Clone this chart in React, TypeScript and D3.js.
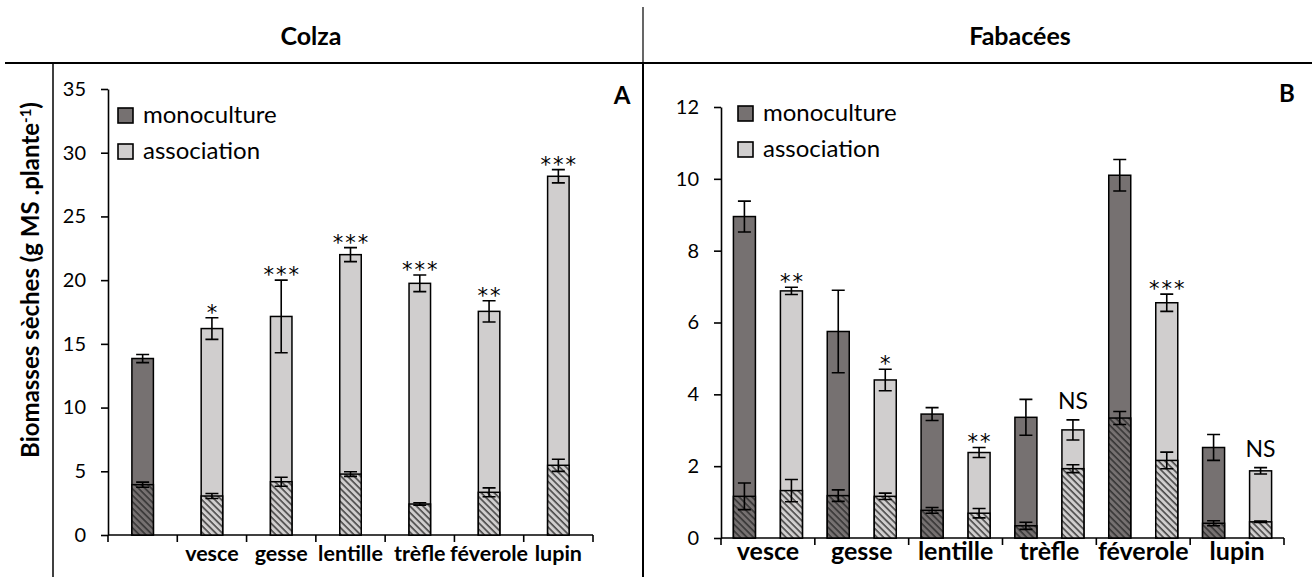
import { useEffect, useRef } from 'react';
import * as d3 from 'd3';

// Colza (A)
const colzaCats = ['', 'vesce', 'gesse', 'lentille', 'trèfle', 'féverole', 'lupin'];
const colzaKind = ['mono', 'asso', 'asso', 'asso', 'asso', 'asso', 'asso'];
const colzaTotal = [13.85, 16.2, 17.15, 22.0, 19.75, 17.55, 28.15];
const colzaTotalErr = [0.32, 0.85, 2.85, 0.55, 0.65, 0.83, 0.52];
const colzaHatch = [3.95, 3.06, 4.18, 4.78, 2.43, 3.35, 5.47];
const colzaHatchErr = [0.2, 0.2, 0.35, 0.18, 0.1, 0.35, 0.48];
const colzaSig = ['', '*', '***', '***', '***', '**', '***'];
const colzaTicks = [0, 5, 10, 15, 20, 25, 30, 35];

// Fabacées (B)
const fabCats = ['vesce', 'gesse', 'lentille', 'trèfle', 'féverole', 'lupin'];
const fabMono = [8.95, 5.75, 3.45, 3.36, 10.1, 2.52];
const fabMonoErr = [0.43, 1.15, 0.18, 0.5, 0.44, 0.36];
const fabMonoHatch = [1.16, 1.18, 0.77, 0.34, 3.34, 0.41];
const fabMonoHatchErr = [0.37, 0.16, 0.08, 0.1, 0.18, 0.07];
const fabAsso = [6.88, 4.4, 2.38, 3.01, 6.55, 1.87];
const fabAssoErr = [0.1, 0.3, 0.14, 0.28, 0.24, 0.09];
const fabAssoHatch = [1.32, 1.16, 0.69, 1.93, 2.16, 0.45];
const fabAssoHatchErr = [0.31, 0.09, 0.13, 0.11, 0.23, 0.02];
const fabSig = ['**', '*', '**', 'NS', '***', 'NS'];
const fabTicks = [0, 2, 4, 6, 8, 10, 12];

const legendLabels = ['monoculture', 'association'];

const FONT = 'Lato, "Open Sans", sans-serif';
const STAR_FONT = '"DejaVu Sans", sans-serif';
const COLORS: Record<string, string> = { mono: '#767171', asso: '#d0cece' };

export default function App() {
  const svgRef = useRef<SVGSVGElement>(null);

  useEffect(() => {
    if (!svgRef.current) return;
    const svg = d3.select(svgRef.current);
    svg.selectAll('*').remove();

    // hatch patterns for the lower part of each bar
    const defs = svg.append('defs');
    ['mono', 'asso'].forEach(k => {
      const p = defs.append('pattern')
        .attr('id', `hatch-${k}`)
        .attr('patternUnits', 'userSpaceOnUse')
        .attr('width', 4.6)
        .attr('height', 4.6)
        .attr('patternTransform', 'rotate(-45)');
      p.append('rect').attr('width', 4.6).attr('height', 4.6).attr('fill', COLORS[k]);
      p.append('line')
        .attr('x1', 1).attr('y1', 0).attr('x2', 1).attr('y2', 4.6)
        .attr('stroke', '#262626').attr('stroke-width', 1.3);
    });

    // frame lines
    svg.append('line').attr('x1', 5).attr('x2', 1312).attr('y1', 63).attr('y2', 63)
      .attr('stroke', '#000').attr('stroke-width', 2);
    svg.append('line').attr('x1', 643).attr('x2', 643).attr('y1', 7).attr('y2', 63)
      .attr('stroke', '#000').attr('stroke-width', 1.2);
    svg.append('line').attr('x1', 643).attr('x2', 643).attr('y1', 63).attr('y2', 577)
      .attr('stroke', '#000').attr('stroke-width', 2);
    svg.append('line').attr('x1', 53).attr('x2', 53).attr('y1', 63).attr('y2', 577)
      .attr('stroke', '#000').attr('stroke-width', 1.5);

    // titles
    svg.append('text').attr('x', 311).attr('y', 45).attr('text-anchor', 'middle')
      .style('font-family', FONT).style('font-weight', '700').style('font-size', '25px')
      .text('Colza');
    svg.append('text').attr('x', 1020).attr('y', 45).attr('text-anchor', 'middle')
      .style('font-family', FONT).style('font-weight', '700').style('font-size', '25px')
      .text('Fabacées');

    // y label
    const yl = svg.append('text')
      .attr('transform', 'translate(39, 280) rotate(-90)')
      .attr('text-anchor', 'middle')
      .style('font-family', FONT).style('font-weight', '700').style('font-size', '24px');
    yl.append('tspan').text('Biomasses sèches (g MS .plante');
    yl.append('tspan').attr('dy', -8).style('font-size', '15px').text('-1');
    yl.append('tspan').attr('dy', 8).text(')');

    const drawBar = (
      g: d3.Selection<SVGGElement, unknown, null, undefined>,
      y: d3.ScaleLinear<number, number>,
      cx: number, w: number, kind: string,
      total: number, totErr: number, hatch: number, hatchErr: number, sig: string
    ) => {
      const x0 = cx - w / 2;
      g.append('rect').attr('x', x0).attr('y', y(total)).attr('width', w)
        .attr('height', y(0) - y(total)).attr('fill', COLORS[kind])
        .attr('stroke', '#000').attr('stroke-width', 1.5);
      g.append('rect').attr('x', x0).attr('y', y(hatch)).attr('width', w)
        .attr('height', y(0) - y(hatch)).attr('fill', `url(#hatch-${kind})`)
        .attr('stroke', '#000').attr('stroke-width', 1.5);
      const err = (v: number, e: number) => {
        const cap = 6.5;
        g.append('path')
          .attr('d', `M${cx},${y(v + e)}V${y(v - e)}M${cx - cap},${y(v + e)}H${cx + cap}M${cx - cap},${y(v - e)}H${cx + cap}`)
          .attr('stroke', '#000').attr('stroke-width', 1.6).attr('fill', 'none');
      };
      err(total, totErr);
      err(hatch, hatchErr);
      if (sig) {
        const top = y(total + totErr);
        const isNS = sig === 'NS';
        g.append('text').attr('x', cx + (isNS ? 0 : 1)).attr('y', isNS ? top - 11 : top + 2)
          .attr('text-anchor', 'middle')
          .style('font-family', isNS ? FONT : STAR_FONT)
          .style('font-size', isNS ? '23px' : '21px')
          .style('letter-spacing', isNS ? '0px' : '2px')
          .text(sig);
      }
    };

    const drawAxes = (
      g: d3.Selection<SVGGElement, unknown, null, undefined>,
      y: d3.ScaleLinear<number, number>,
      x: d3.ScaleBand<string>,
      ticks: number[]
    ) => {
      const [x0, x1] = x.range();
      const ax = g.append('g').attr('transform', `translate(${x0},0)`)
        .call(d3.axisLeft(y).tickValues(ticks).tickSize(7).tickSizeOuter(0).tickPadding(15)
          .tickFormat(d => String(d)));
      ax.select('.domain').attr('stroke-width', 1.6);
      ax.selectAll('.tick line').attr('stroke-width', 1.6);
      ax.selectAll('.tick text')
        .style('font-family', FONT).style('font-size', '20px').attr('fill', '#000');
      g.append('line').attr('x1', x0).attr('x2', x1).attr('y1', y(0)).attr('y2', y(0))
        .attr('stroke', '#000').attr('stroke-width', 1.6);
      const bounds = x.domain().map(d => x(d) as number).concat([x1]);
      g.selectAll('.xtick').data(bounds).enter().append('line')
        .attr('x1', d => d).attr('x2', d => d).attr('y1', y(0)).attr('y2', y(0) + 7)
        .attr('stroke', '#000').attr('stroke-width', 1.6);
    };

    const drawLegend = (g: d3.Selection<SVGGElement, unknown, null, undefined>, lx: number, ly: number) => {
      legendLabels.forEach((lab, i) => {
        const k = i === 0 ? 'mono' : 'asso';
        g.append('rect').attr('x', lx).attr('y', ly + i * 36).attr('width', 15).attr('height', 15)
          .attr('fill', COLORS[k]).attr('stroke', '#000').attr('stroke-width', 1.6);
        g.append('text').attr('x', lx + 25).attr('y', ly + i * 36 + 15)
          .style('font-family', FONT).style('font-size', '24px').text(lab);
      });
    };

    // ---- Panel A
    const gA = svg.append('g');
    const yA = d3.scaleLinear().domain([0, 35]).range([535, 89]);
    const xA = d3.scaleBand().domain(colzaCats.map((_, i) => String(i))).range([108, 593]);
    drawAxes(gA, yA, xA, colzaTicks);
    colzaCats.forEach((c, i) => {
      const cx = (xA(String(i)) as number) + xA.bandwidth() / 2;
      drawBar(gA, yA, cx, 21.5, colzaKind[i], colzaTotal[i], colzaTotalErr[i], colzaHatch[i], colzaHatchErr[i], colzaSig[i]);
      if (c) {
        gA.append('text').attr('x', cx).attr('y', 561).attr('text-anchor', 'middle')
          .style('font-family', FONT).style('font-weight', '700').style('font-size', '21.5px').text(c);
      }
    });
    drawLegend(gA, 118, 108);
    gA.append('text').attr('x', 622).attr('y', 104).attr('text-anchor', 'middle')
      .style('font-family', FONT).style('font-weight', '700').style('font-size', '24px').text('A');

    // ---- Panel B
    const gB = svg.append('g');
    const yB = d3.scaleLinear().domain([0, 12]).range([538, 107]);
    const xB = d3.scaleBand().domain(fabCats).range([721, 1284]);
    const sub = d3.scaleBand().domain(['mono', 'asso']).range([0, xB.bandwidth()])
      .paddingInner(0.532).paddingOuter(0.264);
    drawAxes(gB, yB, xB, fabTicks);
    fabCats.forEach((c, i) => {
      const bx = xB(c) as number;
      const cm = bx + (sub('mono') as number) + sub.bandwidth() / 2;
      const ca = bx + (sub('asso') as number) + sub.bandwidth() / 2;
      drawBar(gB, yB, cm, sub.bandwidth(), 'mono', fabMono[i], fabMonoErr[i], fabMonoHatch[i], fabMonoHatchErr[i], '');
      drawBar(gB, yB, ca, sub.bandwidth(), 'asso', fabAsso[i], fabAssoErr[i], fabAssoHatch[i], fabAssoHatchErr[i], fabSig[i]);
      gB.append('text').attr('x', bx + xB.bandwidth() / 2).attr('y', 560).attr('text-anchor', 'middle')
        .style('font-family', FONT).style('font-weight', '700').style('font-size', '25px').text(c);
    });
    drawLegend(gB, 738, 106);
    gB.append('text').attr('x', 1287).attr('y', 102).attr('text-anchor', 'middle')
      .style('font-family', FONT).style('font-weight', '700').style('font-size', '24px').text('B');
  }, []);

  return (
    <div style={{ position: 'absolute', left: 0, top: 0, background: '#fff' }}>
      <svg ref={svgRef} width={1312} height={577} style={{ display: 'block' }} />
    </div>
  );
}
